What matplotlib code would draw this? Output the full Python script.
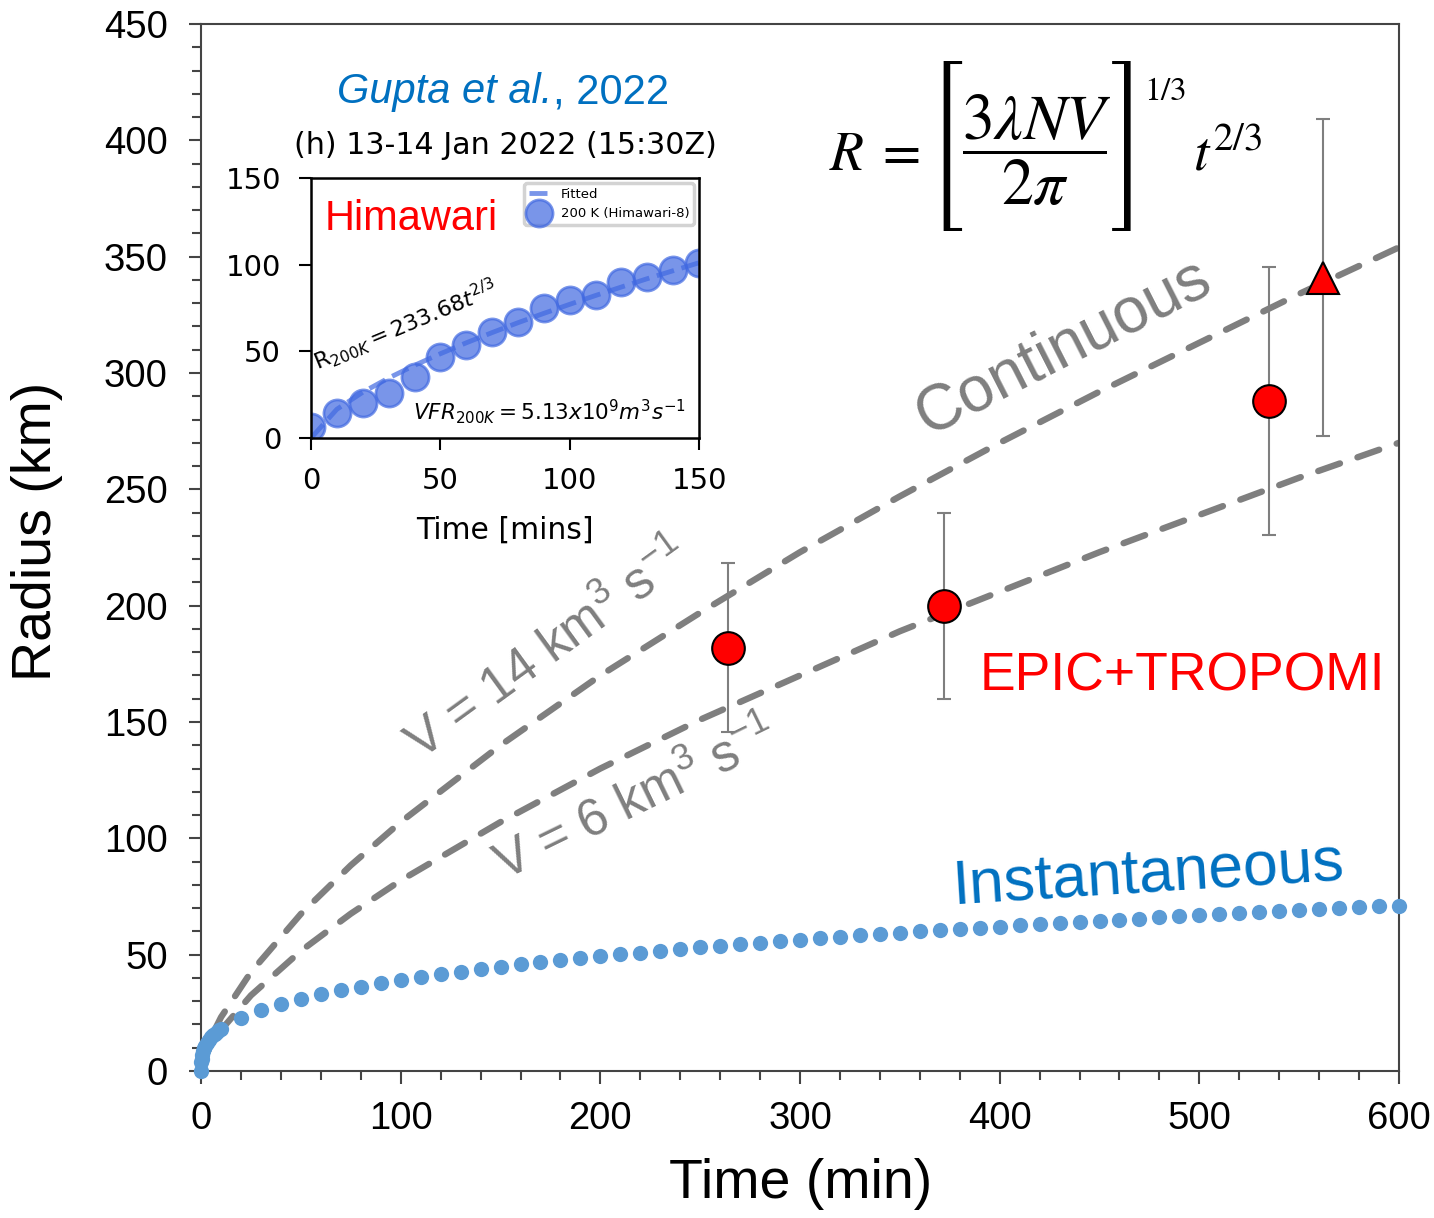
import os
import matplotlib
matplotlib.use("Agg")
import matplotlib.pyplot as plt
from matplotlib.font_manager import FontProperties
from matplotlib.ticker import MultipleLocator

plt.rcParams['font.family'] = ['Liberation Sans', 'DejaVu Sans']
plt.rcParams['mathtext.fontset'] = 'custom'
plt.rcParams['mathtext.rm'] = 'Liberation Sans'
plt.rcParams['mathtext.it'] = 'Liberation Sans:italic'

# continuous release curves (min, km)
t_cont = [0, 1, 2, 5, 10, 25, 50, 75, 100, 150, 200, 250, 300, 350, 400,
          450, 500, 550, 600]
r_v14 = [0, 5.0, 7.9, 14.5, 23.1, 42.5, 67.5, 88.4, 107, 140, 170, 197, 223,
         247, 270, 292, 313, 334, 354]
r_v6 = [0, 3.8, 6.0, 11.1, 17.6, 32.5, 51.6, 67.6, 81.9, 107, 130, 151, 170,
        189, 206, 223, 239, 255, 270]

# instantaneous release dots
t_inst = [0, 0.1, 0.25, 0.5, 1, 1.5, 2, 3, 4, 5, 6, 7, 8, 9, 10,
          20, 30, 40, 50, 60, 70, 80, 90, 100, 110, 120, 130, 140, 150,
          160, 170, 180, 190, 200, 210, 220, 230, 240, 250, 260, 270, 280,
          290, 300, 310, 320, 330, 340, 350, 360, 370, 380, 390, 400, 410,
          420, 430, 440, 450, 460, 470, 480, 490, 500, 510, 520, 530, 540,
          550, 560, 570, 580, 590, 600]
r_inst = [0, 3.9, 5.3, 6.7, 8.4, 9.7, 10.6, 12.2, 13.4, 14.4, 15.3, 16.1,
          16.9, 17.5, 18.2,
          22.9, 26.2, 28.8, 31.1, 33.0, 34.7, 36.3, 37.8, 39.1, 40.4, 41.6,
          42.7, 43.8, 44.8, 45.8, 46.7, 47.6, 48.5, 49.3, 50.1, 50.9, 51.7,
          52.4, 53.1, 53.8, 54.5, 55.2, 55.8, 56.4, 57.1, 57.7, 58.3, 58.8,
          59.4, 60.0, 60.5, 61.1, 61.6, 62.1, 62.6, 63.1, 63.6, 64.1, 64.6,
          65.1, 65.5, 66.0, 66.5, 66.9, 67.4, 67.8, 68.2, 68.6, 69.1, 69.5,
          69.9, 70.3, 70.7, 71.1]

# EPIC+TROPOMI observations
t_obs = [264, 372, 535]
r_obs = [182, 200, 288]
err_obs = [36.5, 40, 57.5]
t_tri = [562]
r_tri = [341]
err_tri = [68]

# inset (Himawari, Gupta et al. 2022)
t_him = [0, 10, 20, 30, 40, 50, 60, 70, 80, 90, 100, 110, 120, 130, 140, 150]
r_him = [6.3, 14.4, 20.2, 26.0, 35.2, 46.7, 53.7, 61.2, 66.9, 75.0, 79.6,
         82.5, 90.0, 92.9, 96.9, 101.0]
r_fit = [0, 16.6, 26.4, 34.6, 41.9, 48.6, 54.9, 60.8, 66.5, 71.9, 77.1,
         82.2, 87.1, 91.9, 96.5, 101.1]

gray = '#7f7f7f'
blue = '#0070C0'

fig = plt.figure(figsize=(14.34, 12.18), dpi=100)
ax = fig.add_axes([0.1402, 0.1207, 0.8354, 0.8596])

ax.plot(t_cont, r_v14, color=gray, lw=4.6, dashes=(3.6, 2.9),
        dash_capstyle='round', zorder=2)
ax.plot(t_cont, r_v6, color=gray, lw=4.6, dashes=(3.6, 2.9),
        dash_capstyle='round', zorder=2)
ax.plot(t_inst, r_inst, 'o', ms=11, color='#5B9BD5', mec='none',
        clip_on=False, zorder=3)

ax.errorbar(t_obs, r_obs, yerr=err_obs, fmt='o', ms=23.5, mfc='red',
            mec='black', mew=1.5, ecolor=gray, elinewidth=1.5, capsize=4.7,
            capthick=1.5, zorder=5)
ax.errorbar(t_tri, r_tri, yerr=err_tri, fmt='^', ms=23.5, mfc='red',
            mec='black', mew=1.5, ecolor=gray, elinewidth=1.5, capsize=4.7,
            capthick=1.5, zorder=5)

ax.set_xlim(0, 600)
ax.set_ylim(0, 450)
ax.xaxis.set_major_locator(MultipleLocator(100))
ax.xaxis.set_minor_locator(MultipleLocator(20))
ax.yaxis.set_major_locator(MultipleLocator(50))
ax.yaxis.set_minor_locator(MultipleLocator(10))
for s in ax.spines.values():
    s.set_color('#444444')
    s.set_linewidth(1.5)
ax.tick_params(which='both', direction='out', color='#444444', width=1.5,
               labelsize=27.5)
ax.tick_params(which='major', length=9)
ax.tick_params(which='minor', length=6.5)
ax.tick_params(axis='x', pad=12.5)
ax.tick_params(axis='y', pad=15)

ax.set_xlabel('Time (min)', fontsize=40)
ax.set_ylabel('Radius (km)', fontsize=40)
ax.xaxis.set_label_coords(0.5004, -0.083)
ax.yaxis.set_label_coords(-0.115, 0.515)

# annotations
ax.text(364, 273.3, 'Continuous', color=gray, fontsize=46, rotation=27,
        rotation_mode='anchor', ha='left', va='baseline')
ax.text(109.7, 133.2, r'V = 14 km$^3$ s$^{-1}$', color=gray, fontsize=37,
        rotation=36, rotation_mode='anchor', ha='left', va='baseline')
ax.text(151.7, 81.6, r'V = 6 km$^3$ s$^{-1}$', color=gray, fontsize=37,
        rotation=26, rotation_mode='anchor', ha='left', va='baseline')
ax.text(376.6, 72.2, 'Instantaneous', color=blue, fontsize=45, rotation=3.6,
        rotation_mode='anchor', ha='left', va='baseline')
ax.text(390, 163.7, 'EPIC+TROPOMI', color='red', fontsize=38.5,
        ha='left', va='baseline')

# formula, built from pieces so the brackets can be tall
big_br = FontProperties(
    fname=os.path.join(matplotlib.get_data_path(), 'fonts', 'ttf',
                       'STIXSizThreeSymReg.ttf'), size=50)
ax.text(360.1, 387.2, r'$R\;=$', fontsize=40, ha='right', va='baseline',
        math_fontfamily='stix')
ax.text(418.7, 395.7, r'$\dfrac{3\lambda NV}{2\pi}$', fontsize=46,
        ha='center', va='center', math_fontfamily='stix')
ax.text(372.7, 397.5, '[', fontproperties=big_br, ha='center', va='center')
ax.text(464.4, 397.5, ']', fontproperties=big_br, ha='center', va='center')
ax.text(472.3, 417.3, r'$1/3$', fontsize=24, ha='left', va='baseline',
        math_fontfamily='stix')
ax.text(496.8, 387.2, r'$t^{2/3}$', fontsize=40, ha='left', va='baseline',
        math_fontfamily='stix')

gup = fig.text(0.3855, 0.9154, 'Gupta et al.', style='italic', color=blue,
               fontsize=30, ha='right', va='baseline')
fig.add_artist(plt.Annotation(', 2022', xy=(1, 0), xycoords=gup,
                              color=blue, fontsize=30, ha='left',
                              va='bottom'))

# inset
ins = fig.add_axes([0.2169, 0.6404, 0.2706, 0.2135])
ins.plot(t_him, r_fit, color='royalblue', alpha=0.7, lw=3.5, ls='--',
         label='Fitted')
ins.plot(t_him, r_him, 'o', ms=19.5, color='royalblue', alpha=0.7, mew=2,
         label='200 K (Himawari-8)')
ins.set_xlim(0, 150)
ins.set_ylim(0, 150)
ins.set_xticks([0, 50, 100, 150])
ins.set_yticks([0, 50, 100, 150])
for s in ins.spines.values():
    s.set_color('black')
    s.set_linewidth(1.8)
ins.tick_params(direction='out', length=8.6, width=1.5, labelsize=21,
                labelfontfamily='DejaVu Sans')
ins.tick_params(axis='x', pad=12)
ins.tick_params(axis='y', pad=13)
ins.set_xlabel('Time [mins]', fontsize=21.5, family='DejaVu Sans',
               labelpad=15)
ins.set_title('(h) 13-14 Jan 2022 (15:30Z)', fontsize=21.7,
              family='DejaVu Sans', pad=17)
ins.text(5.4, 120, 'Himawari', color='red', fontsize=30, va='baseline')
ins.text(2.7, 39, r'$\mathrm{R}_{200K} = 233.68t^{2/3}$', fontsize=16,
         rotation=22.6, rotation_mode='anchor', ha='left', va='baseline',
         family='DejaVu Sans', math_fontfamily='dejavusans')
ins.text(39.4, 10.4, r'$VFR_{200K} = 5.13x10^9m^3s^{-1}$', fontsize=15.5,
         ha='left', va='baseline', family='DejaVu Sans',
         math_fontfamily='dejavusans')
leg = ins.legend(loc='upper right',
                 prop={'family': 'DejaVu Sans', 'size': 9.5},
                 handlelength=1.6, handletextpad=0.8, labelspacing=0.5,
                 borderpad=0.35, borderaxespad=0.4, framealpha=1)
leg.get_frame().set_edgecolor('lightgray')
leg.get_frame().set_linewidth(2.5)

fig.savefig('out.png', dpi=100)
